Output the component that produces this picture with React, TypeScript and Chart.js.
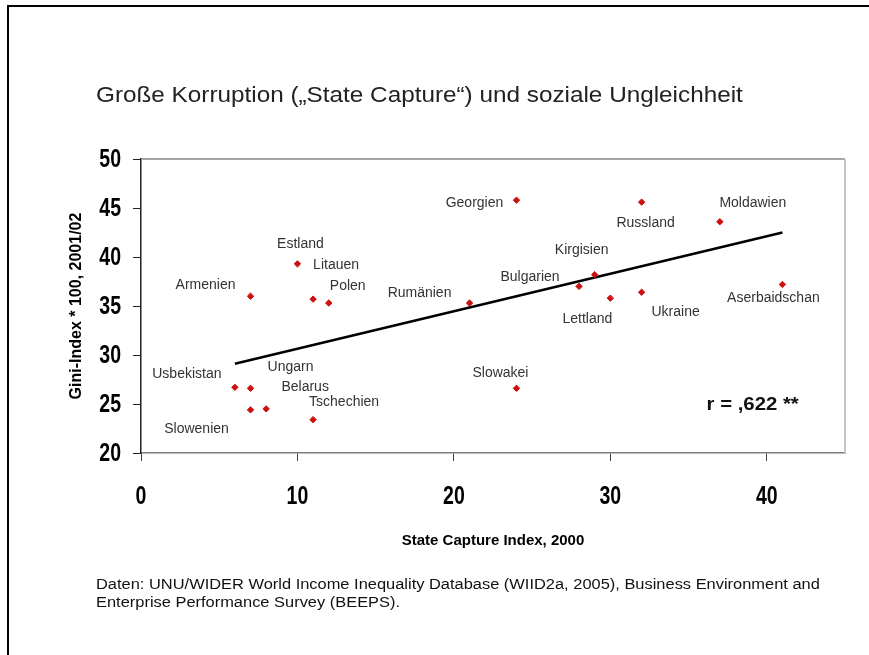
import React, { useEffect, useRef } from 'react';
import { Chart, registerables } from 'chart.js';

Chart.register(...registerables);

// ---- data ----
const countries = [
  'Armenien', 'Estland', 'Litauen', 'Polen', 'Usbekistan', 'Ungarn', 'Slowenien', 'Belarus',
  'Tschechien', 'Rumänien', 'Georgien', 'Slowakei', 'Bulgarien', 'Kirgisien', 'Lettland',
  'Ukraine', 'Russland', 'Moldawien', 'Aserbaidschan',
];
const stateCapture = [7, 10, 11, 12, 6, 7, 7, 8, 11, 21, 24, 24, 28, 29, 30, 32, 32, 37, 41];
const gini = [36.0, 39.3, 35.7, 35.3, 26.7, 26.6, 24.4, 24.5, 23.4, 35.3, 45.8, 26.6, 37.0, 38.2, 35.8, 36.4, 45.6, 43.6, 37.2];
const trendX = [6, 41];
const trendY = [29.1, 42.5];
const xTickValues = [0, 10, 20, 30, 40];
const yTickValues = [20, 25, 30, 35, 40, 45, 50];
const correlationText = 'r = ,622 **';
const correlationAt = [39.1, 24.9];

const titleText = 'Große Korruption („State Capture“) und soziale Ungleichheit';
const xTitle = 'State Capture Index, 2000';
const yTitle = 'Gini-Index * 100, 2001/02';
const footnoteLines = [
  'Daten: UNU/WIDER World Income Inequality Database (WIID2a, 2005), Business Environment and',
  'Enterprise Performance Survey (BEEPS).',
];

// ---- label placement (pixel offsets from each point) ----
const labelOffsets: Record<string, [number, number]> = {
  Armenien: [-45, -11],
  Estland: [3, -20],
  Litauen: [23, -34],
  Polen: [19, -17],
  Usbekistan: [-48, -13],
  Ungarn: [40, -21],
  Slowenien: [-54, 19],
  Belarus: [39, -22],
  Tschechien: [31, -18],
  Rumänien: [-50, -10],
  Georgien: [-42, 3],
  Slowakei: [-16, -15],
  Bulgarien: [-49, -9],
  Kirgisien: [-13, -24],
  Lettland: [-23, 21],
  Ukraine: [34, 20],
  Russland: [4, 21],
  Moldawien: [33, -19],
  Aserbaidschan: [-9, 14],
};

const SANS = '"Liberation Sans", Arial, Helvetica, sans-serif';

function drawCondensed(ctx: any, text: string, x: number, y: number, sx: number, align: string) {
  ctx.save();
  ctx.translate(x, y);
  ctx.scale(sx, 1);
  ctx.textAlign = align;
  ctx.fillText(text, 0, 0);
  ctx.restore();
}

const annotatePlugin = {
  id: 'annotate',
  afterDraw(chart: any) {
    const { ctx, chartArea: a, scales } = chart;
    const xs = scales.x;
    const ys = scales.y;
    ctx.save();
    // plot frame: top and right edges
    ctx.strokeStyle = '#8a8a8a';
    ctx.lineWidth = 1.5;
    ctx.beginPath();
    ctx.moveTo(a.left, a.top);
    ctx.lineTo(a.right, a.top);
    ctx.stroke();
    ctx.strokeStyle = '#c4c4c4';
    ctx.lineWidth = 2;
    ctx.beginPath();
    ctx.moveTo(a.right, a.top);
    ctx.lineTo(a.right, a.bottom);
    ctx.stroke();

    // tick labels (bold, condensed)
    ctx.font = `bold 25px ${SANS}`;
    ctx.fillStyle = '#000';
    ctx.textBaseline = 'middle';
    xs.ticks.forEach((t: any) => {
      drawCondensed(ctx, String(t.value), xs.getPixelForValue(t.value), xs.top + 44, 0.78, 'center');
    });
    ys.ticks.forEach((t: any) => {
      drawCondensed(ctx, String(t.value), ys.right - 20, ys.getPixelForValue(t.value) + 1, 0.78, 'right');
    });

    // point labels
    const meta = chart.getDatasetMeta(0);
    ctx.font = `14px ${SANS}`;
    ctx.fillStyle = '#333';
    ctx.textAlign = 'center';
    ctx.textBaseline = 'middle';
    meta.data.forEach((el: any, i: number) => {
      const off = labelOffsets[countries[i]] || [0, -12];
      ctx.fillText(countries[i], el.x + off[0], el.y + off[1]);
    });

    // correlation text
    ctx.font = `bold 18px ${SANS}`;
    ctx.fillStyle = '#111';
    drawCondensed(
      ctx,
      correlationText,
      xs.getPixelForValue(correlationAt[0]),
      ys.getPixelForValue(correlationAt[1]),
      1.13,
      'center'
    );
    ctx.restore();
  },
};

export default function App() {
  const canvasRef = useRef<HTMLCanvasElement | null>(null);

  useEffect(() => {
    if (!canvasRef.current) return;
    const chart = new Chart(canvasRef.current, {
      type: 'scatter',
      data: {
        datasets: [
          {
            label: 'Länder',
            data: stateCapture.map((x, i) => ({ x, y: gini[i] })),
            pointStyle: 'rectRot',
            pointRadius: 3.2,
            pointBorderWidth: 1,
            backgroundColor: '#cc1010',
            borderColor: '#cc1010',
            showLine: false,
          },
          {
            label: 'Trend',
            data: trendX.map((x, i) => ({ x, y: trendY[i] })),
            showLine: true,
            borderColor: '#000',
            borderWidth: 2.5,
            pointRadius: 0,
            fill: false,
          },
        ],
      },
      options: {
        animation: false,
        responsive: false,
        devicePixelRatio: 1,
        layout: { padding: { left: 0, top: 159, right: 24, bottom: 0 } },
        plugins: {
          legend: { display: false },
          tooltip: { enabled: false },
        },
        scales: {
          x: {
            type: 'linear',
            min: 0,
            max: 45,
            afterBuildTicks: (scale: any) => {
              scale.ticks = xTickValues.map((v) => ({ value: v }));
            },
            afterFit: (scale: any) => {
              scale.height = 655 - 453;
            },
            grid: {
              drawOnChartArea: false,
              drawTicks: true,
              tickLength: 8,
              color: '#444',
              lineWidth: 1,
            },
            border: { display: true, color: '#7a7a7a', width: 1.5 },
            ticks: { display: false },
            title: {
              display: true,
              text: xTitle,
              color: '#000',
              font: { family: SANS, size: 15, weight: 'bold' },
              padding: { top: 0, bottom: 105 },
            },
          },
          y: {
            type: 'linear',
            min: 20,
            max: 50,
            afterBuildTicks: (scale: any) => {
              scale.ticks = yTickValues.map((v) => ({ value: v }));
            },
            afterFit: (scale: any) => {
              scale.width = 141;
            },
            grid: {
              drawOnChartArea: false,
              drawTicks: true,
              tickLength: 8,
              color: '#222',
              lineWidth: 1,
            },
            border: { display: true, color: '#222', width: 1.5 },
            ticks: { display: false },
            title: {
              display: true,
              text: yTitle,
              color: '#000',
              font: { family: SANS, size: 16, weight: 'bold' },
              padding: { top: 67, bottom: 0 },
            },
          },
        },
      },
      plugins: [annotatePlugin],
    } as any);
    return () => chart.destroy();
  }, []);

  return (
    <div
      style={{
        position: 'absolute',
        left: 0,
        top: 0,
        width: 869,
        height: 655,
        overflow: 'hidden',
        background: '#fff',
      }}
    >
      <div
        style={{
          position: 'absolute',
          left: 7,
          top: 5,
          width: 862,
          height: 650,
          borderLeft: '2px solid #000',
          borderTop: '2px solid #000',
          boxSizing: 'border-box',
        }}
      />
      <canvas
        ref={canvasRef}
        width={869}
        height={655}
        style={{ position: 'absolute', left: 0, top: 0, display: 'block' }}
      />
      <div
        style={{
          position: 'absolute',
          left: 96,
          top: 82,
          fontFamily: SANS,
          fontSize: 21.5,
          lineHeight: '26px',
          color: '#222',
          whiteSpace: 'nowrap',
          transform: 'scaleX(1.13)',
          transformOrigin: 'left center',
        }}
      >
        {titleText}
      </div>
      <div
        style={{
          position: 'absolute',
          left: 96,
          top: 575,
          fontFamily: SANS,
          fontSize: 15.5,
          lineHeight: '18px',
          color: '#111',
          whiteSpace: 'nowrap',
          transform: 'scaleX(1.06)',
          transformOrigin: 'left center',
        }}
      >
        {footnoteLines.map((l, i) => (
          <div key={i}>{l}</div>
        ))}
      </div>
    </div>
  );
}
